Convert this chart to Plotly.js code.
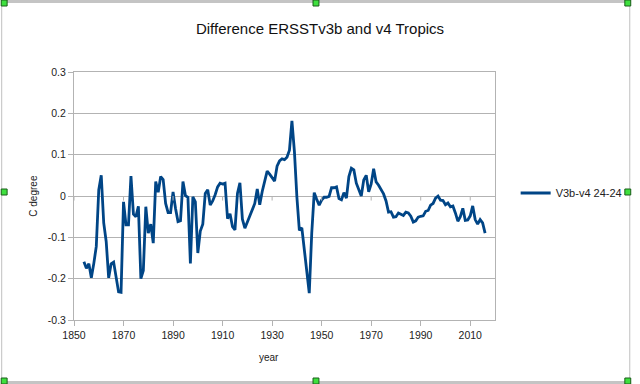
<!DOCTYPE html>
<html>
<head>
<meta charset="utf-8">
<script src="https://cdn.plot.ly/plotly-3.0.1.min.js"></script>
<style>html,body{margin:0;padding:0;background:#fff;}#chart{width:640px;height:384px;}</style>
</head>
<body>
<div id="chart"></div>
<script>
const years = [1854,1855,1856,1857,1858,1859,1860,1861,1862,1863,1864,1865,1866,1867,1868,1869,
1870,1871,1872,1873,1874,1875,1876,1877,1878,1879,1880,1881,1882,1883,1884,1885,1886,1887,1888,1889,
1890,1891,1892,1893,1894,1895,1896,1897,1898,1899,1900,1901,1902,1903,1904,1905,1906,1907,1908,1909,
1910,1911,1912,1913,1914,1915,1916,1917,1918,1919,1920,1921,1922,1923,1924,1925,1926,1927,1928,1929,
1930,1931,1932,1933,1934,1935,1936,1937,1938,1939,1940,1941,1942,1943,1944,1945,1946,1947,1948,1949,
1950,1951,1952,1953,1954,1955,1956,1957,1958,1959,1960,1961,1962,1963,1964,1965,1966,1967,1968,1969,
1970,1971,1972,1973,1974,1975,1976,1977,1978,1979,1980,1981,1982,1983,1984,1985,1986,1987,1988,1989,
1990,1991,1992,1993,1994,1995,1996,1997,1998,1999,2000,2001,2002,2003,2004,2005,2006,2007,2008,2009,
2010,2011,2012,2013,2014,2015,2016];

const diffV3bV4 = [-0.159,-0.175,-0.164,-0.198,-0.163,-0.122,0.015,0.05,-0.065,-0.11,-0.198,-0.164,-0.16,-0.193,-0.232,-0.233,
-0.014,-0.07,-0.07,0.048,-0.044,-0.05,-0.025,-0.2,-0.18,-0.026,-0.09,-0.068,-0.114,0.035,0.009,0.047,0.04,-0.018,-0.04,-0.04,
0.01,-0.03,-0.062,-0.06,0.035,0.001,-0.003,-0.163,-0.002,-0.014,-0.138,-0.085,-0.068,0.006,0.015,-0.022,-0.012,0.003,0.022,0.031,
0.029,0.031,-0.055,-0.043,-0.074,-0.082,0.006,0.032,-0.056,-0.078,-0.062,-0.046,-0.03,-0.018,0.017,-0.021,0.011,0.036,0.06,0.053,
0.045,0.036,0.072,0.085,0.09,0.088,0.094,0.111,0.182,0.108,-0.002,-0.083,-0.077,-0.133,-0.179,-0.235,-0.09,0.008,-0.008,-0.022,
-0.01,-0.003,-0.003,-0.001,0.02,0.02,0.022,-0.006,-0.009,0.008,-0.005,0.047,0.067,0.063,0.031,0.015,0.0,0.039,0.05,0.01,
0.029,0.066,0.034,0.026,0.015,0.005,-0.012,-0.039,-0.038,-0.051,-0.05,-0.041,-0.044,-0.047,-0.039,-0.041,-0.049,-0.063,-0.06,-0.051,
-0.049,-0.048,-0.037,-0.035,-0.022,-0.018,-0.005,0.0,-0.01,-0.011,-0.021,-0.017,-0.026,-0.024,-0.041,-0.061,-0.05,-0.03,-0.059,-0.058,
-0.048,-0.024,-0.057,-0.068,-0.057,-0.065,-0.09];

const xTicks = [1850,1870,1890,1910,1930,1950,1970,1990,2010];
const yTicks = [-0.3,-0.2,-0.1,0,0.1,0.2,0.3];
const yTickText = ['-0.3','-0.2','-0.1','0','0.1','0.2','0.3'];
const seriesName = 'V3b-v4 24-24';
const chartTitle = 'Difference ERSSTv3b and v4 Tropics';

const FONT = 'Liberation Sans, Arial, sans-serif';
const L = 74, R = 502, T = 72, B = 320;
const px = x => (x - L) / (R - L);
const py = y => (B - y) / (B - T);

const shapes = [];
// small ticks on the zero line
xTicks.forEach(v => shapes.push({type:'line', xref:'x', yref:'y', x0:v, x1:v, y0:0, y1:-0.011,
  line:{color:'#b3b3b3', width:1}}));
// outer chart frame
shapes.push({type:'rect', xref:'paper', yref:'paper', x0:px(0.5), x1:px(639), y0:py(383), y1:py(1),
  line:{color:'#c0c0c0', width:1}, fillcolor:'rgba(0,0,0,0)', layer:'below'});
shapes.push({type:'rect', xref:'paper', yref:'paper', x0:px(0), x1:px(640), y0:py(3), y1:py(0),
  line:{width:0}, fillcolor:'#c4c4c4'});
shapes.push({type:'rect', xref:'paper', yref:'paper', x0:px(0), x1:px(640), y0:py(384), y1:py(381),
  line:{width:0}, fillcolor:'#c4c4c4'});
// selection handles
[[3,3],[320,3],[637,3],[3,192],[637,192],[3,381],[320,381],[637,381]].forEach(([hx,hy]) =>
  shapes.push({type:'rect', xref:'paper', yref:'paper', x0:px(hx-3), x1:px(hx+3), y0:py(hy+3), y1:py(hy-3),
    line:{color:'#1a5e1a', width:1}, fillcolor:'#3ee03e'}));

const trace = {
  x: years, y: diffV3bV4, type:'scatter', mode:'lines', name: seriesName,
  line:{color:'#004586', width:2.8}
};

const layout = {
  width:640, height:384,
  margin:{l:L, r:640-R, t:T, b:384-B, pad:0},
  paper_bgcolor:'#fff', plot_bgcolor:'#fff',
  font:{family:FONT, size:11, color:'#222'},
  title:{text:chartTitle, x:0.5, xref:'container', y:1-29/384, yref:'container', yanchor:'middle',
    font:{family:FONT, size:15, color:'#111'}},
  xaxis:{range:[1850,2020], tickmode:'array', tickvals:xTicks, ticktext:xTicks.map(String),
    showgrid:false, zeroline:false, showline:true, mirror:true, linecolor:'#b3b3b3', linewidth:1,
    ticks:'outside', ticklen:5, tickcolor:'#b3b3b3', tickfont:{family:FONT, size:10.5, color:'#222'}, fixedrange:true},
  yaxis:{range:[-0.3,0.3], tickmode:'array', tickvals:yTicks, ticktext:yTickText,
    showgrid:true, gridcolor:'#b3b3b3', gridwidth:1, zeroline:false, showline:true, mirror:true,
    linecolor:'#b3b3b3', linewidth:1, ticks:'outside', ticklen:5, tickcolor:'#b3b3b3',
    tickfont:{family:FONT, size:10.5, color:'#222'}, fixedrange:true},
  showlegend:true,
  legend:{x:px(523), xanchor:'left', y:py(193), yanchor:'middle', bgcolor:'rgba(0,0,0,0)',
    borderwidth:0, font:{family:FONT, size:11, color:'#222'}},
  annotations:[
    {text:'C degree', xref:'paper', yref:'paper', x:px(32), y:py(196), textangle:-90,
      showarrow:false, font:{family:FONT, size:10, color:'#222'}, xanchor:'center', yanchor:'middle'},
    {text:'year', xref:'paper', yref:'paper', x:px(272), y:py(357), showarrow:false,
      font:{family:FONT, size:10, color:'#222'}, xanchor:'center', yanchor:'middle'}
  ],
  shapes: shapes
};

Plotly.newPlot('chart', [trace], layout, {staticPlot:true, displayModeBar:false});
</script>
</body>
</html>
